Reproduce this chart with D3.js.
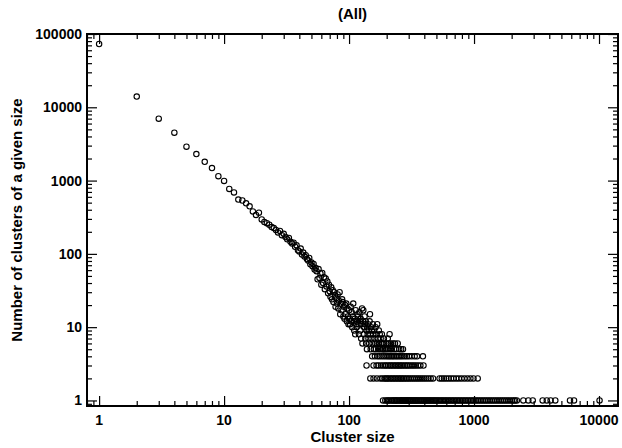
<!DOCTYPE HTML>
<html lang="en">
<head>
  <meta charset="utf-8">
  <title>Cluster sizes (All)</title>
  <script src="https://d3js.org/d3.v7.min.js"></script>
  <style>
    body { margin: 0; background: #fff; }
    text { font-family: "Liberation Sans", Arial, sans-serif; font-weight: bold; fill: #000; }
  </style>
</head>
<body>
<div id="stage"></div>

<script>
  // counts for cluster sizes 1, 2, 3 ... 140
  var headCounts = [73000, 14000, 7000, 4500, 2900, 2300, 1800, 1480, 1150, 990,
    770, 690, 550, 535, 490, 445, 380, 340, 365, 295,
    272, 262, 250, 232, 225, 212, 196, 205, 180, 188,
    170, 158, 165, 146, 138, 142, 125, 131, 112, 108,
    118, 98, 104, 92, 96, 85, 81, 88, 72, 76,
    68, 73, 61, 64, 58, 45, 62, 47, 54, 38,
    55, 40, 48, 33, 46, 36, 42, 29, 38, 31,
    26, 35, 24, 32, 22, 30, 27, 19, 25, 21,
    28, 18, 23, 30, 15, 21, 17, 24, 22, 14,
    19, 13, 20, 15, 21, 12, 18, 14, 11, 17,
    13, 11, 19, 12, 16, 10, 14, 21, 12, 9,
    13, 8, 17, 11, 10, 12, 15, 14, 11, 8,
    16, 12, 9, 13, 7, 11, 18, 6, 12, 17,
    8, 10, 14, 11, 7, 12, 6, 9, 5, 10];

  // larger sizes, grouped by how many clusters have that size
  var sizesCount15 = [147];
  var sizesCount12 = [146];
  var sizesCount11 = [142, 155, 168];
  var sizesCount10 = [150, 163];
  var sizesCount9 = [144, 152, 159, 173];
  var sizesCount8 = [141, 148, 156, 165, 176, 183, 211];
  var sizesCount7 = [143, 151, 160, 170, 179, 190, 204];
  var sizesCount6 = [145, 154, 162, 167, 174, 181, 186, 191, 200, 208, 216, 225, 233, 245];
  var sizesCount5 = [149, 158, 164, 171, 177, 184, 188, 193, 198, 205, 213, 220, 229, 238, 252, 261, 270];
  var sizesCount4 = [153, 161, 169, 175, 182, 189, 196, 203, 209, 215, 222, 228, 236, 243, 251, 259,
    268, 279, 290, 302, 318, 335, 350, 390];
  var sizesCount3 = [138, 157, 166, 172, 180, 187, 194, 199, 206, 212, 218, 224, 231, 237, 244, 250,
    257, 264, 272, 281, 289, 298, 308, 319, 330, 342, 356, 372, 394];
  var sizesCount2 = [148, 157, 167, 178, 185, 192, 197, 202, 207, 214, 219, 226, 232, 239, 246, 253,
    260, 267, 275, 283, 292, 301, 311, 322, 333, 345, 357, 370, 384, 399, 415, 432, 450, 470,
    530, 552, 575, 600, 627, 655, 686, 720, 756, 795, 838, 885, 935, 990, 1070];
  var sizesCount1 = [187, 195, 201, 206, 210, 217, 221, 227, 230, 235, 240, 242, 248, 255, 258, 263,
    266, 271, 276, 280, 285, 288, 294, 297, 303, 306, 313, 316, 324, 328, 336, 339, 347, 352,
    360, 366, 375, 380, 388, 396, 403, 411, 420, 428, 437, 446, 455, 466, 476, 486, 497, 508,
    520, 533, 546, 560, 574, 589, 604, 620, 637, 654, 672, 690, 710, 730, 751, 772, 795, 818,
    842, 867, 893, 920, 948, 977, 1007, 1038, 1070, 1104, 1140, 1177, 1215, 1255, 1297, 1340,
    1385, 1432, 1480, 1530, 1582, 1636, 1692, 1750, 1810, 1873, 1938, 2005, 2075, 2130,
    2200, 2480, 2720, 2950, 3540, 3820, 4100, 4470, 5860, 6310, 10100];

  var xMajor = [1, 10, 100, 1000, 10000];
  var yMajor = [1, 10, 100, 1000, 10000, 100000];

  var points = headCounts.map(function (c, i) { return { size: i + 1, count: c }; });
  [[15, sizesCount15], [12, sizesCount12], [11, sizesCount11], [10, sizesCount10],
   [9, sizesCount9], [8, sizesCount8], [7, sizesCount7], [6, sizesCount6], [5, sizesCount5],
   [4, sizesCount4], [3, sizesCount3], [2, sizesCount2], [1, sizesCount1]].forEach(function (row) {
    row[1].forEach(function (s) { points.push({ size: s, count: row[0] }); });
  });

  var W = 622, H = 448;
  var pL = 87, pR = 618, pT = 34, pB = 406;

  var svg = d3.select("#stage").append("svg").attr("width", W).attr("height", H);

  var x = d3.scaleLog().domain([0.8, 14190]).range([pL, pR]);
  var y = d3.scaleLog().domain([0.84, 100000]).range([pB, pT]);

  // minor ticks: 2..9 of every decade inside the domain
  function minors(scale) {
    var d = scale.domain(), out = [];
    for (var e = -1; e <= 5; e++) {
      for (var m = 2; m <= 9; m++) {
        var v = m * Math.pow(10, e);
        if (v >= d[0] && v <= d[1]) out.push(v);
      }
    }
    return out;
  }

  function drawAxis(axis, tx, ty) {
    var g = svg.append("g").attr("transform", "translate(" + tx + "," + ty + ")").call(axis);
    g.select(".domain").remove();
    g.selectAll("line").attr("stroke", "#000").attr("stroke-width", 1.2);
    return g;
  }

  // ticks point inward on all four sides
  drawAxis(d3.axisBottom(x).tickValues(minors(x)).tickSize(-5).tickFormat(""), 0, pB);
  drawAxis(d3.axisBottom(x).tickValues(xMajor).tickSize(-10).tickFormat(""), 0, pB);
  drawAxis(d3.axisTop(x).tickValues(minors(x)).tickSize(-5).tickFormat(""), 0, pT);
  drawAxis(d3.axisTop(x).tickValues(xMajor).tickSize(-10).tickFormat(""), 0, pT);
  drawAxis(d3.axisLeft(y).tickValues(minors(y)).tickSize(-5).tickFormat(""), pL, 0);
  drawAxis(d3.axisLeft(y).tickValues(yMajor).tickSize(-10).tickFormat(""), pL, 0);
  drawAxis(d3.axisRight(y).tickValues(minors(y)).tickSize(-5).tickFormat(""), pR, 0);
  drawAxis(d3.axisRight(y).tickValues(yMajor).tickSize(-10).tickFormat(""), pR, 0);

  // tick labels
  svg.selectAll(".xl").data(xMajor).enter().append("text")
    .attr("x", function (d) { return x(d); }).attr("y", pB + 19)
    .attr("text-anchor", "middle").style("font-size", "14px")
    .text(function (d) { return d; });
  svg.selectAll(".yl").data(yMajor).enter().append("text")
    .attr("x", pL - 5).attr("y", function (d) { return y(d) + 5; })
    .attr("text-anchor", "end").style("font-size", "14px")
    .text(function (d) { return d; });

  // frame
  svg.append("rect").attr("x", pL).attr("y", pT)
    .attr("width", pR - pL).attr("height", pB - pT)
    .attr("fill", "none").attr("stroke", "#000").attr("stroke-width", 2);

  svg.append("g").selectAll("circle").data(points).enter().append("circle")
    .attr("cx", function (d) { return x(d.size); })
    .attr("cy", function (d) { return y(d.count); })
    .attr("r", 2.7)
    .attr("fill", "none").attr("stroke", "#000").attr("stroke-width", 1.1);

  svg.append("text").attr("x", (pL + pR) / 2).attr("y", 19)
    .attr("text-anchor", "middle").style("font-size", "15px").text("(All)");
  svg.append("text").attr("x", (pL + pR) / 2).attr("y", 442)
    .attr("text-anchor", "middle").style("font-size", "15px").text("Cluster size");
  svg.append("text").attr("transform", "translate(22," + ((pT + pB) / 2) + ") rotate(-90)")
    .attr("text-anchor", "middle").style("font-size", "15px").text("Number of clusters of a given size");
</script>
</body>
</html>
